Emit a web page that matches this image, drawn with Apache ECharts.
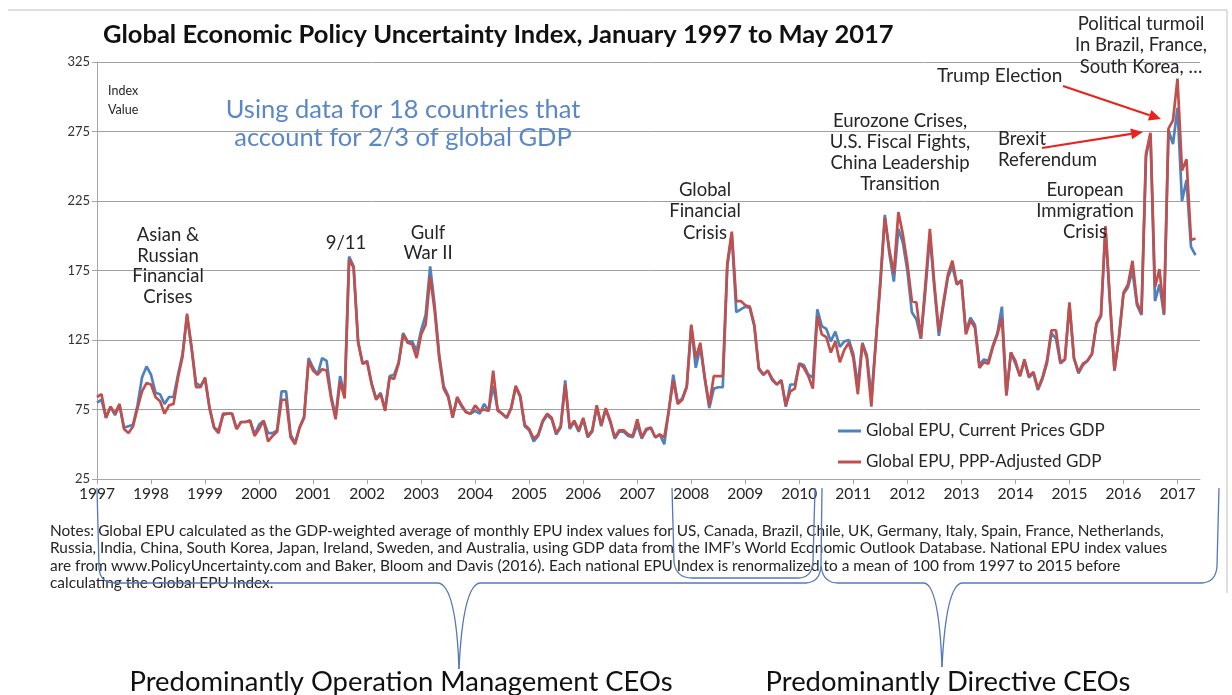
<!DOCTYPE html>
<html><head><meta charset="utf-8">
<script src="https://cdn.jsdelivr.net/npm/echarts/dist/echarts.min.js"></script>
<style>html,body{margin:0;padding:0;background:#fff;}#c{width:1232px;height:695px;}</style>
</head><body><div id="c"></div>
<script>
// Year tick labels (January of each year)
const yearLabels = ['1997','1998','1999','2000','2001','2002','2003','2004','2005','2006','2007','2008','2009','2010','2011','2012','2013','2014','2015','2016','2017'];
const yTicks = [25, 75, 125, 175, 225, 275, 325];
const seriesNames = ['Global EPU, Current Prices GDP', 'Global EPU, PPP-Adjusted GDP'];

// Monthly values, Jan 1997 .. May 2017 (245 months)
const epuCurrent = [
  80, 82, 69, 77, 71, 78, 62, 63, 64, 78, 98, 106,
  100, 87, 86, 79, 84, 84, 100, 115, 142, 119, 94, 92,
  97, 76, 62, 60, 71, 72, 72, 61, 66, 66, 67, 57,
  64, 67, 58, 58, 60, 88, 88, 57, 51, 62, 70, 112,
  105, 100, 112, 110, 85, 70, 99, 85, 185, 178, 124, 108,
  110, 94, 83, 87, 75, 99, 100, 109, 130, 124, 124, 117,
  132, 143, 178, 150, 115, 92, 85, 70, 83, 77, 73, 72,
  74, 72, 79, 74, 92, 75, 72, 69, 76, 91, 84, 63,
  60, 52, 56, 66, 71, 68, 57, 62, 96, 61, 66, 59,
  68, 55, 59, 77, 63, 75, 66, 54, 59, 59, 56, 55,
  64, 54, 60, 62, 55, 57, 50, 74, 100, 80, 83, 92,
  135, 105, 120, 97, 76, 90, 91, 91, 178, 201, 145, 147,
  149, 148, 135, 104, 100, 103, 96, 93, 96, 77, 93, 93,
  108, 107, 100, 98, 147, 135, 133, 124, 131, 120, 124, 125,
  115, 92, 123, 114, 84, 124, 168, 215, 187, 167, 205, 195,
  175, 145, 140, 126, 160, 200, 162, 128, 150, 170, 178, 165,
  168, 131, 141, 136, 107, 111, 110, 121, 130, 149, 86, 116,
  108, 99, 110, 98, 101, 89, 97, 108, 130, 126, 108, 111,
  150, 112, 101, 107, 110, 115, 136, 142, 205, 152, 103, 127,
  158, 163, 175, 150, 143, 257, 273, 153, 165, 143, 276, 266,
  292, 225, 240, 192, 186
];
const epuPPP = [
  84, 86, 69, 77, 72, 79, 61, 58, 63, 76, 88, 94,
  93, 84, 81, 72, 78, 79, 98, 113, 144, 120, 91, 91,
  98, 76, 62, 58, 72, 72, 72, 61, 66, 66, 67, 56,
  61, 67, 52, 56, 59, 82, 82, 55, 50, 62, 69, 110,
  103, 100, 104, 103, 83, 68, 95, 83, 183, 177, 123, 108,
  109, 93, 82, 86, 74, 98, 97, 108, 129, 123, 122, 112,
  129, 136, 171, 146, 112, 90, 84, 69, 84, 78, 73, 72,
  78, 74, 75, 74, 103, 74, 72, 69, 76, 92, 85, 64,
  61, 54, 57, 67, 72, 69, 58, 63, 93, 62, 67, 60,
  69, 56, 60, 78, 64, 76, 67, 55, 60, 60, 57, 56,
  68, 55, 61, 62, 55, 57, 55, 74, 96, 79, 82, 91,
  136, 112, 123, 98, 78, 99, 99, 99, 180, 203, 153, 153,
  150, 149, 136, 105, 100, 103, 97, 93, 96, 78, 88, 90,
  108, 105, 99, 90, 142, 129, 127, 116, 124, 109, 118, 123,
  112, 86, 122, 112, 77, 124, 165, 213, 190, 173, 217, 201,
  180, 153, 152, 126, 165, 205, 165, 131, 152, 172, 182, 165,
  168, 129, 139, 134, 105, 109, 108, 120, 129, 141, 85, 116,
  110, 99, 111, 99, 102, 90, 98, 110, 132, 132, 109, 111,
  152, 112, 102, 108, 110, 115, 137, 143, 207, 153, 103, 127,
  159, 165, 182, 152, 144, 259, 274, 163, 176, 144, 277, 283,
  313, 247, 255, 197, 198
];

const titleText = 'Global Economic Policy Uncertainty Index, January 1997 to May 2017';
const notesLines = [
  'Notes: Global EPU calculated as the GDP-weighted average of monthly EPU index values for US, Canada, Brazil, Chile, UK, Germany, Italy, Spain, France, Netherlands,',
  'Russia, India, China, South Korea, Japan, Ireland, Sweden, and Australia, using GDP data from the IMF\u2019s World Economic Outlook Database. National EPU index values',
  'are from www.PolicyUncertainty.com and Baker, Bloom and Davis (2016). Each national EPU Index is renormalized to a mean of 100 from 1997 to 2015 before',
  'calculating the Global EPU Index.'
];

const FONT = 'Lato, "Open Sans", sans-serif';
const tickVals = yearLabels.map((_, i) => i * 12);
const toPairs = arr => arr.map((v, i) => [i, v]);

function txt(x, y, text, size, opts) {
  opts = opts || {};
  return {
    type: 'text', x: x, y: y, silent: true, z: 100,
    style: {
      text: text,
      font: (opts.weight || 'normal') + ' ' + size + 'px ' + FONT,
      fill: opts.color || '#262626',
      align: opts.align || 'center', textAlign: opts.align || 'center',
      verticalAlign: 'middle', textVerticalAlign: 'middle',
      lineHeight: opts.lh || Math.round(size * 1.25)
    }
  };
}
function seg(x1, y1, x2, y2, color, w) {
  return { type: 'line', silent: true, z: 100, shape: { x1, y1, x2, y2 }, style: { stroke: color, lineWidth: w } };
}
function quad(x1, y1, cx, cy, x2, y2, color, w) {
  return { type: 'bezierCurve', silent: true, z: 100, shape: { x1, y1, x2, y2, cpx1: cx, cpy1: cy }, style: { stroke: color, lineWidth: w, fill: null } };
}
function arrow(x1, y1, x2, y2) {
  const c = '#e8231f';
  const ang = Math.atan2(y2 - y1, x2 - x1);
  const L = 12, W = 5.5;
  const bx = x2 - L * Math.cos(ang), by = y2 - L * Math.sin(ang);
  const px = -Math.sin(ang) * W, py = Math.cos(ang) * W;
  return [
    seg(x1, y1, bx, by, c, 2.2),
    { type: 'polygon', silent: true, z: 100, shape: { points: [[x2, y2], [bx + px, by + py], [bx - px, by - py]] }, style: { fill: c } }
  ];
}
const BR = '#5577bb';
const braces = [
  // left big brace
  seg(97, 488, 99, 568, BR, 1.3), quad(99, 568, 100, 583, 115, 583, BR, 1.3), seg(115, 583, 438, 583, BR, 1.3),
  quad(438, 583, 456, 585, 459, 669, BR, 1.3), quad(459, 669, 463, 585, 480, 583, BR, 1.3),
  seg(480, 583, 806, 583, BR, 1.3), quad(806, 583, 820, 582, 821, 566, BR, 1.3), seg(821, 566, 822, 488, BR, 1.3),
  // small brace 2008-2010
  seg(672, 488, 674, 562, BR, 1.3), quad(674, 562, 676, 578, 692, 578, BR, 1.3), seg(692, 578, 798, 578, BR, 1.3),
  quad(798, 578, 812, 578, 813, 562, BR, 1.3), seg(813, 562, 815, 488, BR, 1.3),
  // right big brace
  quad(821, 566, 823, 583, 838, 583, BR, 1.3), seg(838, 583, 924, 583, BR, 1.3),
  quad(924, 583, 939, 585, 942, 667, BR, 1.3), quad(942, 667, 946, 585, 962, 583, BR, 1.3),
  seg(962, 583, 1202, 583, BR, 1.3), quad(1202, 583, 1216, 582, 1217, 566, BR, 1.3), seg(1217, 566, 1219, 488, BR, 1.3)
];

const A = 18.5; // annotation font size
const graphics = [
  seg(8, 10, 1227, 10, '#bfbfbf', 1),
  seg(1227, 10, 1227, 593, '#bfbfbf', 1),
  txt(103, 35, titleText, 25.5, { weight: 'bold', align: 'left', color: '#111' }),
  txt(108, 100.5, 'Index\nValue', 12.5, { align: 'left', lh: 19 }),
  txt(403, 124, 'Using data for 18 countries that\naccount for 2/3 of global GDP', 25.5, { color: '#5a87c8', lh: 28 }),
  txt(168, 266, 'Asian &\nRussian\nFinancial\nCrises', A, { lh: 20.7 }),
  txt(346, 243, '9/11', A),
  txt(428, 243, 'Gulf\nWar II', A, { lh: 20.5 }),
  txt(705, 211.5, 'Global\nFinancial\nCrisis', A, { lh: 21.5 }),
  txt(900, 152.5, 'Eurozone Crises,\nU.S. Fiscal Fights,\nChina Leadership\nTransition', A, { lh: 21 }),
  txt(937, 76, 'Trump Election', 19, { align: 'left' }),
  txt(1141, 45.5, 'Political turmoil\nIn Brazil, France,\nSouth Korea, \u2026', A, { lh: 21.5 }),
  txt(998, 149.5, 'Brexit\nReferendum', A, { align: 'left', lh: 21 }),
  txt(1085, 211, 'European\nImmigration\nCrisis', A, { lh: 21 }),
  txt(50, 557, notesLines.join('\n'), 15.4, { align: 'left', lh: 17.3 }),
  txt(401, 682, 'Predominantly Operation Management CEOs', 27.4, { color: '#111' }),
  txt(948, 682, 'Predominantly Directive CEOs', 27.4, { color: '#111' })
].concat(arrow(1063, 86, 1161, 119)).concat(arrow(1042, 148, 1143, 132)).concat(braces);

const chart = echarts.init(document.getElementById('c'), null, { renderer: 'canvas' });
chart.setOption({
  animation: false,
  backgroundColor: '#fff',
  textStyle: { fontFamily: FONT },
  grid: { left: 97, right: 32, top: 62, bottom: 216, containLabel: false },
  legend: {
    data: seriesNames, orient: 'vertical', left: 838, top: 421, padding: 0,
    itemWidth: 23, itemHeight: 3, itemGap: 11, icon: 'rect',
    textStyle: { fontSize: 17, color: '#262626', fontFamily: FONT, lineHeight: 20 }
  },
  xAxis: {
    type: 'value', min: 0, max: 245, interval: 12,
    axisLine: { lineStyle: { color: '#a6a6a6', width: 1 } },
    axisTick: { show: true, customValues: tickVals, length: 5, lineStyle: { color: '#a6a6a6' } },
    axisLabel: { customValues: tickVals, formatter: v => yearLabels[Math.round(v / 12)] || '', fontSize: 15.5, color: '#262626', margin: 7, fontFamily: FONT },
    splitLine: { show: false }
  },
  yAxis: {
    type: 'value', min: yTicks[0], max: yTicks[yTicks.length - 1], interval: 50,
    axisLine: { show: true, lineStyle: { color: '#a6a6a6', width: 1 } },
    axisTick: { show: true, length: 5, lineStyle: { color: '#a6a6a6' } },
    axisLabel: { fontSize: 13, color: '#333', margin: 7, fontFamily: FONT },
    splitLine: { show: true, lineStyle: { color: '#a0a0a0', width: 1 } }
  },
  series: [
    { name: seriesNames[0], type: 'line', data: toPairs(epuCurrent), showSymbol: false, symbol: 'none',
      lineStyle: { color: '#4f81bd', width: 2.7 }, itemStyle: { color: '#4f81bd' }, z: 2 },
    { name: seriesNames[1], type: 'line', data: toPairs(epuPPP), showSymbol: false, symbol: 'none',
      lineStyle: { color: '#c0504d', width: 2.7 }, itemStyle: { color: '#c0504d' }, z: 3 }
  ],
  graphic: graphics
});
</script>
</body></html>
